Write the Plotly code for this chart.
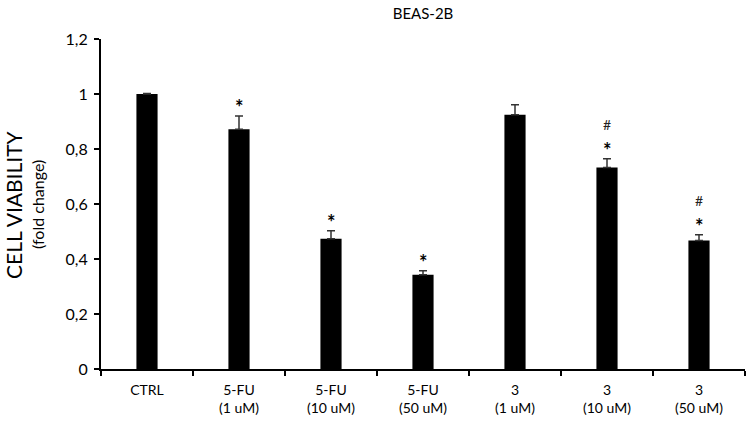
import plotly.graph_objects as go

categories = ["CTRL", "5-FU<br>(1 uM)", "5-FU<br>(10 uM)", "5-FU<br>(50 uM)",
              "3<br>(1 uM)", "3<br>(10 uM)", "3<br>(50 uM)"]
values = [1.0, 0.872, 0.474, 0.343, 0.925, 0.733, 0.467]
errors = [0.002, 0.048, 0.029, 0.014, 0.036, 0.032, 0.021]
star_marks = ["", "*", "*", "*", "", "*", "*"]
hash_marks = ["", "", "", "", "", "#", "#"]
yticks = [0, 0.2, 0.4, 0.6, 0.8, 1.0, 1.2]

fig = go.Figure()
fig.add_trace(go.Bar(
    x=categories, y=values,
    marker=dict(color="black", line=dict(width=0)),
    error_y=dict(type="data", array=errors, arrayminus=[0]*len(errors),
                 symmetric=False, color="#333333", thickness=1.5, width=4),
    width=0.23,
))

FONT = "Lato, 'Open Sans', sans-serif"
for c, v, e, s, h in zip(categories, values, errors, star_marks, hash_marks):
    if s:
        fig.add_annotation(x=c, y=v + e, text="<b>" + s + "</b>", showarrow=False, yanchor="bottom",
                           yshift=-5, font=dict(size=20, color="black", family=FONT))
    if h:
        fig.add_annotation(x=c, y=v + e, text=h, showarrow=False, yanchor="bottom",
                           yshift=24, font=dict(size=14, color="#222222", family=FONT))

fig.add_annotation(xref="paper", yref="paper", x=-101/644 + 13/644, y=(369-205)/330,
                   text="CELL VIABILITY", textangle=-90, showarrow=False,
                   xanchor="center", yanchor="middle",
                   font=dict(size=21, family=FONT, color="black"))
fig.add_annotation(xref="paper", yref="paper", x=-101/644 + 37/644, y=(369-205)/330,
                   text="(fold change)", textangle=-90, showarrow=False,
                   xanchor="center", yanchor="middle",
                   font=dict(size=16, family=FONT, color="black"))

fig.update_layout(
    width=750, height=426,
    margin=dict(l=101, r=5, t=39, b=57),
    paper_bgcolor="white", plot_bgcolor="white",
    separators=",.",
    showlegend=False,
    font=dict(family=FONT, color="black"),
    title=dict(text="BEAS-2B", x=423/750, xanchor="center", y=1-14/426, yanchor="middle",
               font=dict(size=15, family=FONT, color="black")),
)
fig.update_xaxes(
    type="category", tickson="boundaries", ticks="outside", ticklen=5,
    tickcolor="black", tickwidth=1.5, automargin=False,
    showline=True, linecolor="black", linewidth=2,
    tickfont=dict(size=14, family=FONT, color="black"),
    showgrid=False, ticklabelstandoff=7,
)
fig.update_yaxes(
    range=[0, 1.2], tickvals=yticks, ticks="outside", ticklen=5,
    tickcolor="black", tickwidth=1.5, automargin=False,
    showline=True, linecolor="black", linewidth=2,
    showgrid=False, zeroline=False, ticklabelstandoff=3,
    tickfont=dict(size=16, family=FONT, color="black"),
)

fig.write_html("out.html", config={"displayModeBar": False},
               post_script="document.body.style.margin='0';document.body.style.padding='0';")
